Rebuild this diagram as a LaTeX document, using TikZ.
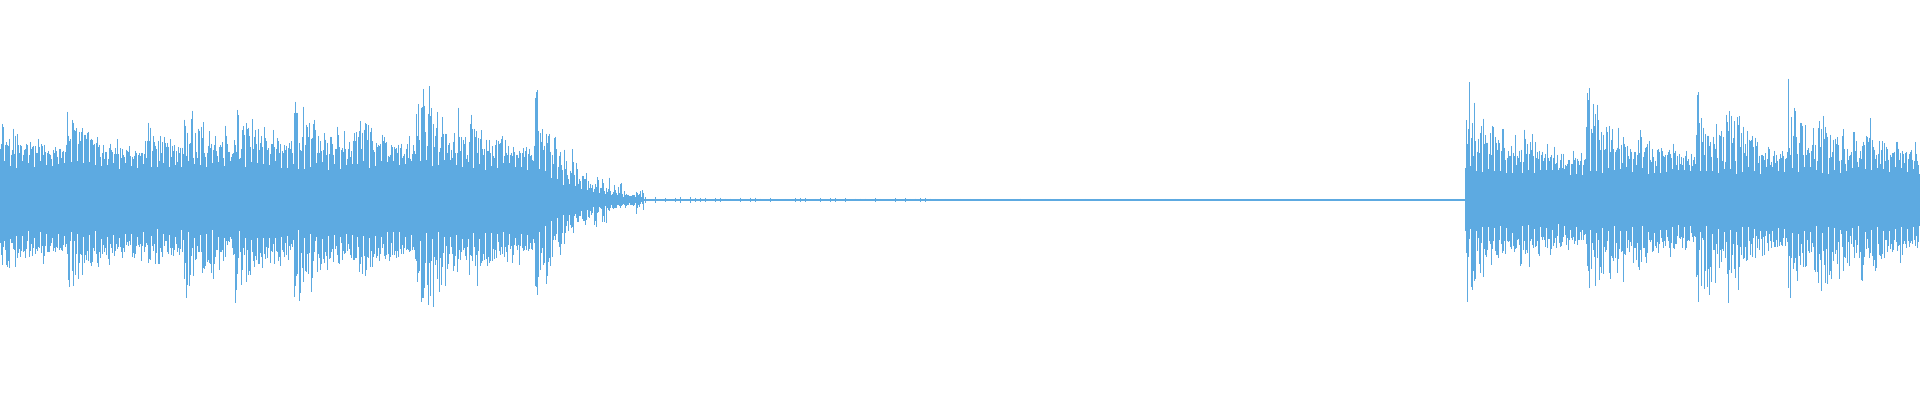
\documentclass[tikz,border=0pt]{standalone}
\usepackage{xcolor}
\definecolor{waveblue}{RGB}{93,170,225}
\tikzset{wave/.style={draw=waveblue,line width=0.6pt},
  corewave/.style={draw=waveblue,line width=1.6pt}}
\begin{document}
\begin{tikzpicture}[x=1pt,y=1pt]
\useasboundingbox (0,0) rectangle (1920,400);
\pgfmathsetseed{4711}
%Quiet middle part
\draw[wave,line width=2.2pt] (640,200) -- (1468,200);
\foreach \x in {645,650,...,1200} {
  \pgfmathsetmacro\n{0.6+2.6*rnd*exp(-(\x-645)/300)}
  \draw[wave] (\x,200+\n) -- (\x,200-\n);
}
%Bursts: onset/end/peak/core/core decay
\foreach \a/\b/\pk/\c/\t in {0/67/77/50/9000, 67/147/99/48/9000, 147/184/81/46/9000,
    184/235/110/48/9000, 235/294/104/50/9000, 294/353/114/48/9000, 353/416/93/49/9000,
    416/469/128/50/9000, 469/535/87/48/9000, 535/643/126/48/40,
    1466/1518/110/42/9000, 1518/1586/77/38/9000, 1586/1638/116/41/9000,
    1638/1696/77/40/9000, 1696/1726/116/42/9000, 1726/1788/104/41/9000,
    1788/1818/110/42/9000, 1818/1861/101/41/9000, 1861/1920/89/41/9000} {
  \pgfmathsetmacro\s{\a+1.2}
  \foreach \x in {\a,\s,...,\b} {
    \pgfmathsetmacro\e{exp(-(\x-\a)/30)}
    \pgfmathsetmacro\core{\c*exp(-(\x-\a)/\t)}
    \pgfmathsetmacro\tail{exp(-(\x-\a)/\t/3)}
    \pgfmathsetmacro\cu{\core*(0.62+0.2*rnd)}
    \pgfmathsetmacro\cd{\core*(0.62+0.2*rnd)}
    \pgfmathsetmacro\up{\core*(0.8+0.2*rnd)+(\pk-\c)*(\e*rnd+0.35*rnd^6)*\tail}
    \pgfmathsetmacro\dn{\core*(0.8+0.2*rnd)+(\pk-\c)*(\e*rnd+0.35*rnd^6)*\tail}
    \draw[corewave] (\x,200+\cu) -- (\x,200-\cd);
    \draw[wave] (\x,200+\up) -- (\x,200-\dn);
  }
}
\end{tikzpicture}
\end{document}
